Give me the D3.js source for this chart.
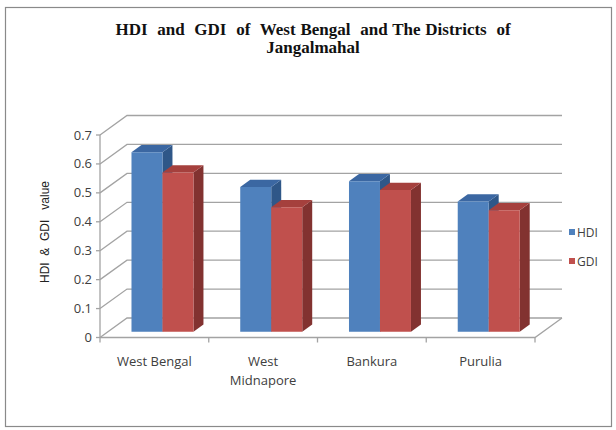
<!DOCTYPE html>
<html>
<head>
<meta charset="utf-8">
<script src="https://cdn.jsdelivr.net/npm/d3@7"></script>
<style>
  body { margin: 0; background: #fff; }
  text { font-family: "Open Sans", "Liberation Sans", sans-serif; }
</style>
</head>
<body>
<script>
var categories = [["West Bengal"], ["West", "Midnapore"], ["Bankura"], ["Purulia"]];
var hdiValues = [0.62, 0.50, 0.52, 0.45];
var gdiValues = [0.55, 0.43, 0.49, 0.42];
var seriesNames = ["HDI", "GDI"];
var yTicks = [0, 0.1, 0.2, 0.3, 0.4, 0.5, 0.6, 0.7];
var titleLines = ["HDI  and  GDI  of  West Bengal  and The Districts  of", "Jangalmahal"];

var width = 616;
var height = 430;

// depth of the 3d box, and where the bars sit inside it
var depthX = 27, depthY = -19.5;
var barFront = 0.3, barBack = 0.67;

var colors = {
    HDI: { front: "#4f81bd", top: "#3b67a2", side: "#2f5788" },
    GDI: { front: "#c0504d", top: "#a5403d", side: "#823230" }
};

var svg = d3.select("body")
    .append("svg")
    .attr("width", width)
    .attr("height", height);

// frame
svg.append("rect")
    .attr("x", 5.5).attr("y", 7.5)
    .attr("width", 606).attr("height", 419)
    .attr("fill", "#fff")
    .attr("stroke", "#8a8a8a")
    .attr("stroke-width", 1.2);

// title
svg.append("g")
    .selectAll("text")
    .data(titleLines)
    .join("text")
    .attr("x", 313)
    .attr("y", (d, i) => 35 + i * 18)
    .attr("text-anchor", "middle")
    .style("font-family", "'Liberation Serif', 'DejaVu Serif', serif")
    .style("font-weight", "bold")
    .style("font-size", "17px")
    .style("word-spacing", "0.6px")
    .style("white-space", "pre")
    .attr("fill", "#111")
    .text(d => d);

var x = d3.scaleBand()
    .domain(categories.map(d => d.join(" ")))
    .range([100, 535]);

var y = d3.scaleLinear()
    .domain([0, 0.7])
    .range([337.5, 135]);

var sub = d3.scaleBand()
    .domain(seriesNames)
    .range([0, x.bandwidth() * 0.57]);

var g = svg.append("g");

// back wall + side wall gridlines
var grid = g.append("g")
    .attr("stroke", "#a3a3a3")
    .attr("stroke-width", 1.3)
    .attr("fill", "none");

grid.selectAll("path")
    .data(yTicks)
    .join("path")
    .attr("d", d => {
        var x0 = x.range()[0], x1 = x.range()[1];
        return "M" + x0 + "," + y(d) +
            "L" + (x0 + depthX) + "," + (y(d) + depthY) +
            "L" + (x1 + depthX) + "," + (y(d) + depthY);
    });

// floor front edge and right edge
grid.append("path")
    .attr("d", "M" + x.range()[0] + "," + y(0) +
        "L" + x.range()[1] + "," + y(0) +
        "L" + (x.range()[1] + depthX) + "," + (y(0) + depthY));

// front value axis line
grid.append("line")
    .attr("x1", x.range()[0]).attr("x2", x.range()[0])
    .attr("y1", y(0)).attr("y2", y(0.7));

// y ticks
grid.selectAll("line.ytick")
    .data(yTicks)
    .join("line")
    .attr("class", "ytick")
    .attr("x1", x.range()[0] - 4).attr("x2", x.range()[0])
    .attr("y1", d => y(d)).attr("y2", d => y(d));

// x ticks
var xEdges = categories.map(d => x(d.join(" "))).concat([x.range()[1]]);
grid.selectAll("line.xtick")
    .data(xEdges)
    .join("line")
    .attr("class", "xtick")
    .attr("x1", d => d).attr("x2", d => d)
    .attr("y1", y(0)).attr("y2", y(0) + 5);

// y tick labels
g.append("g")
    .selectAll("text")
    .data(yTicks)
    .join("text")
    .attr("x", 92)
    .attr("y", d => y(d))
    .attr("dy", "0.35em")
    .attr("text-anchor", "end")
    .style("font-size", "13px")
    .attr("fill", "#404040")
    .text(d => d === 0 ? "0" : d3.format(".1f")(d));

// y axis title
svg.append("text")
    .attr("transform", "translate(49,232) rotate(-90)")
    .attr("text-anchor", "middle")
    .style("font-size", "12px")
    .style("font-family", "'Liberation Sans', Arial, sans-serif")
    .style("white-space", "pre")
    .attr("fill", "#222")
    .text("HDI  &  GDI   value");

// bars
var bars = [];
categories.forEach((c, i) => {
    bars.push({ cat: c.join(" "), s: "HDI", v: hdiValues[i] });
    bars.push({ cat: c.join(" "), s: "GDI", v: gdiValues[i] });
});

var fx = depthX * barFront, fy = depthY * barFront;
var bx = depthX * barBack, by = depthY * barBack;
var bdx = bx - fx, bdy = by - fy;

var barG = g.append("g")
    .selectAll("g")
    .data(bars)
    .join("g");

function face(d, which) {
    var x0 = x(d.cat) + (x.bandwidth() - sub.range()[1]) / 2 + sub(d.s) + fx;
    var x1 = x0 + sub.bandwidth();
    var yb = y(0) + fy;
    var yt = y(d.v) + fy;
    if (which === "front")
        return "M" + x0 + "," + yb + "L" + x0 + "," + yt + "L" + x1 + "," + yt + "L" + x1 + "," + yb + "Z";
    if (which === "top")
        return "M" + x0 + "," + yt + "L" + (x0 + bdx) + "," + (yt + bdy) + "L" + (x1 + bdx) + "," + (yt + bdy) + "L" + x1 + "," + yt + "Z";
    return "M" + x1 + "," + yb + "L" + x1 + "," + yt + "L" + (x1 + bdx) + "," + (yt + bdy) + "L" + (x1 + bdx) + "," + (yb + bdy) + "Z";
}

barG.append("path").attr("d", d => face(d, "side")).attr("fill", d => colors[d.s].side);
barG.append("path").attr("d", d => face(d, "top")).attr("fill", d => colors[d.s].top);
barG.append("path").attr("d", d => face(d, "front")).attr("fill", d => colors[d.s].front);

// category labels
var catLabels = g.append("g")
    .selectAll("text")
    .data(categories)
    .join("text")
    .attr("x", d => x(d.join(" ")) + x.bandwidth() / 2)
    .attr("y", 366)
    .attr("text-anchor", "middle")
    .style("font-size", "13px")
    .attr("fill", "#404040");

catLabels.selectAll("tspan")
    .data(d => d)
    .join("tspan")
    .attr("x", function() { return d3.select(this.parentNode).attr("x"); })
    .attr("dy", (d, i) => i === 0 ? 0 : 19)
    .text(d => d);

// legend
var legend = svg.append("g")
    .selectAll("g")
    .data(seriesNames)
    .join("g")
    .attr("transform", (d, i) => "translate(569," + (229 + i * 29) + ")");

legend.append("rect")
    .attr("width", 6).attr("height", 6)
    .attr("fill", d => colors[d].front);

legend.append("text")
    .attr("x", 8)
    .attr("y", 3)
    .attr("dy", "0.38em")
    .style("font-size", "12px")
    .attr("fill", "#404040")
    .text(d => d);
</script>
</body>
</html>
